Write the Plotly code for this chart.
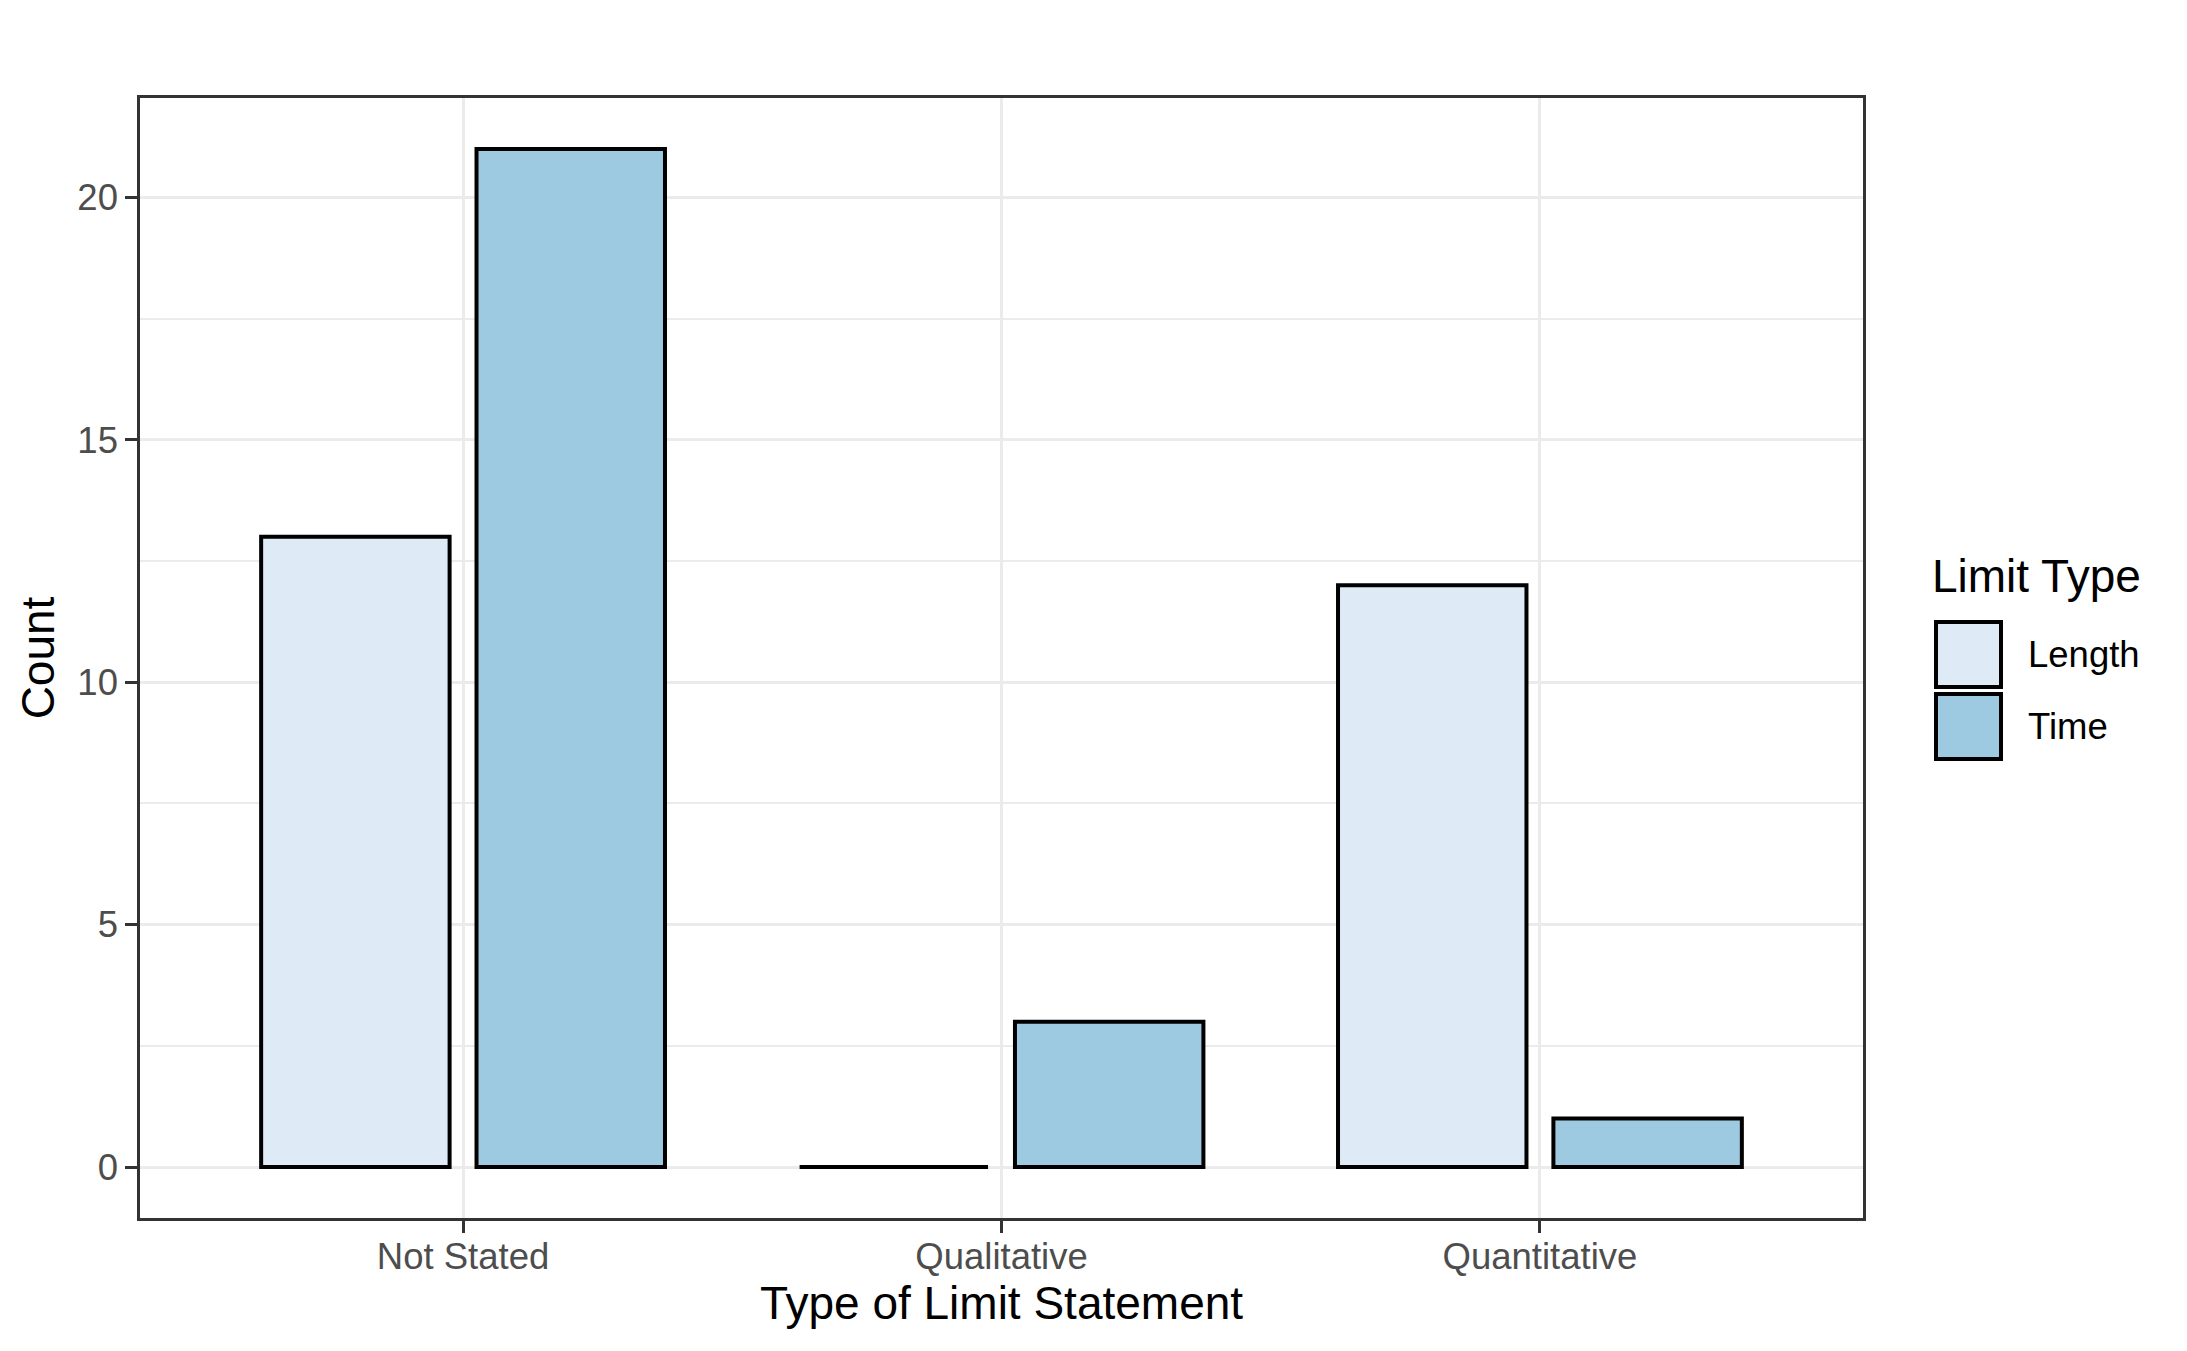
import plotly.graph_objects as go

# data
categories = ["Not Stated", "Qualitative", "Quantitative"]
length_counts = [13, 0, 12]
time_counts = [21, 3, 1]
series_names = ["Length", "Time"]
series_colors = ["#DEEBF7", "#9ECAE1"]

W, H = 2187, 1351
OFF = 8  # default body margin of the page, the figure starts 8px in
L, R, T, B = 140, 324, 98, 133   # plot area in page pixels
PW, PH = W - L - R, H - T - B

FONT = "Liberation Sans"


def px_x(p):
    return (p - L) / PW


def px_y(p):
    return (H - B - p) / PH


fig = go.Figure()
for name, vals, col in zip(series_names, [length_counts, time_counts], series_colors):
    # a zero bar is not drawn by plotly, a tiny height keeps its outline visible
    shown = [v if v != 0 else 1e-6 for v in vals]
    fig.add_trace(go.Bar(
        x=categories, y=shown, name=name,
        marker=dict(color=col, line=dict(color="black", width=4)),
        customdata=vals, hovertemplate="%{x}: %{customdata}<extra>" + name + "</extra>",
        showlegend=False,
    ))

fig.update_layout(
    width=W - OFF, height=H - OFF,
    margin=dict(l=L - OFF, r=R, t=T - OFF, b=B),
    paper_bgcolor="white", plot_bgcolor="white",
    barmode="group", bargap=0.2, bargroupgap=0.125,
    font=dict(family=FONT, size=36.5, color="#4D4D4D"),
)

fig.update_xaxes(
    type="category", range=[-0.6, 2.6],
    showgrid=True, gridcolor="#EBEBEB", gridwidth=3,
    showline=True, mirror=True, linecolor="#333333", linewidth=2.5,
    ticks="outside", ticklen=12, tickwidth=3, tickcolor="#333333",
    ticklabelstandoff=-8,
    tickfont=dict(size=36.5, color="#4D4D4D"),
    title=dict(text="Type of Limit Statement", font=dict(size=46, color="black"), standoff=8),
    zeroline=False,
)
fig.update_yaxes(
    range=[-1.05, 22.05], tickvals=[0, 5, 10, 15, 20],
    showgrid=True, gridcolor="#EBEBEB", gridwidth=3,
    minor=dict(dtick=2.5, tick0=0, showgrid=True, gridcolor="#EBEBEB", gridwidth=1.5),
    showline=True, mirror=True, linecolor="#333333", linewidth=2.5,
    ticks="outside", ticklen=12, tickwidth=3, tickcolor="#333333",
    tickfont=dict(size=36.5, color="#4D4D4D"),
    title=dict(text="Count", font=dict(size=46, color="black"), standoff=9),
    zeroline=False,
)

# legend drawn like ggplot's: big square keys stacked under the title
fig.add_annotation(
    xref="paper", yref="paper", x=px_x(1930), y=px_y(576),
    text="Limit Type", showarrow=False, xanchor="left", yanchor="middle",
    font=dict(family=FONT, size=46, color="black"),
)
key_top, key_size, key_step = 622, 65, 72
for i, (name, col) in enumerate(zip(series_names, series_colors)):
    y0 = key_top + i * key_step
    fig.add_shape(
        type="rect", xref="paper", yref="paper",
        x0=px_x(1936), x1=px_x(1936 + key_size), y0=px_y(y0), y1=px_y(y0 + key_size),
        fillcolor=col, line=dict(color="black", width=4),
    )
    fig.add_annotation(
        xref="paper", yref="paper", x=px_x(2026), y=px_y(y0 + key_size / 2),
        text=name, showarrow=False, xanchor="left", yanchor="middle",
        font=dict(family=FONT, size=36.5, color="black"),
    )

fig.write_html("out.html")
